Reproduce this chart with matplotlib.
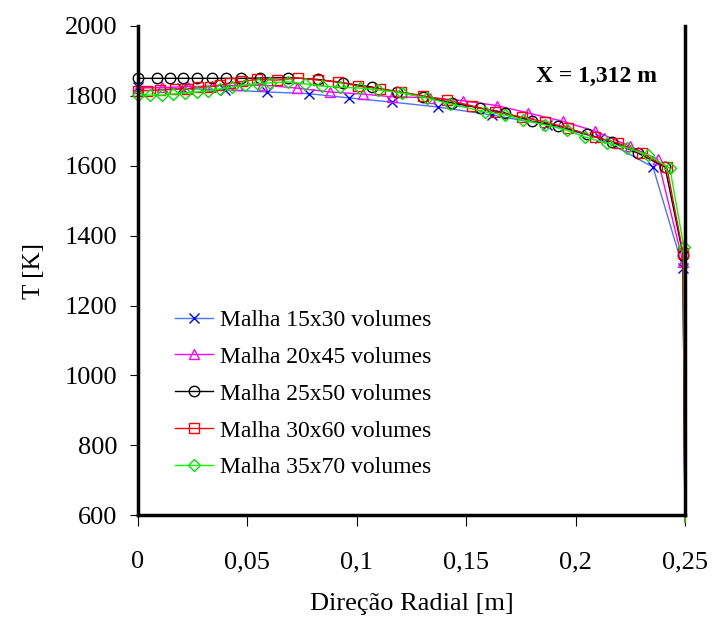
import matplotlib
matplotlib.use("Agg")
import matplotlib.pyplot as plt
import numpy as np

####### DATA #######

# Malha 15x30
r_15 = [0, 0.0201, 0.0398, 0.0590, 0.0782, 0.0965, 0.1161, 0.1371, 0.1618, 0.1869, 0.2111, 0.2354, 0.2491, 0.25]
T_15 = [1825, 1821, 1817, 1811, 1806, 1794, 1782, 1768, 1745, 1717, 1679, 1596, 1307, 580]

# Malha 20x45
r_20 = [0, 0.0110, 0.0228, 0.0338, 0.0453, 0.0567, 0.0727, 0.0878, 0.1028, 0.1161, 0.1335, 0.1485, 0.1641, 0.1782, 0.1942, 0.2088, 0.2248, 0.2376, 0.2491, 0.25]
T_20 = [1822, 1824, 1826, 1828, 1830, 1831, 1822, 1811, 1805, 1797, 1795, 1786, 1772, 1751, 1727, 1699, 1656, 1618, 1324, 580]

# Malha 25x50
r_25 = [0, 0.0087, 0.0146, 0.0206, 0.0270, 0.0338, 0.0402, 0.0471, 0.0558, 0.0686, 0.0823, 0.0937, 0.1070, 0.1184, 0.1303,
        0.1435, 0.1563, 0.1677, 0.1801, 0.1920, 0.2052, 0.2166, 0.2285, 0.2409, 0.2491, 0.25]
T_25 = [1850, 1850, 1850, 1850, 1850, 1850, 1850, 1850, 1851, 1852, 1847, 1837, 1825, 1811, 1797,
        1780, 1765, 1751, 1727, 1714, 1690, 1668, 1636, 1596, 1345, 580]

# Malha 30x60
r_30 = [0, 0.0041, 0.0101, 0.0170, 0.0224, 0.0274, 0.0329, 0.0375, 0.0420, 0.0475, 0.0544, 0.0636, 0.0731, 0.0823, 0.0914,
        0.1005, 0.1106, 0.1202, 0.1303, 0.1412, 0.1527, 0.1632, 0.1755, 0.1860, 0.1965, 0.2088, 0.2194, 0.2303, 0.2417, 0.2491, 0.25]
T_30 = [1815, 1815, 1817, 1819, 1819, 1824, 1826, 1831, 1836, 1841, 1847, 1845, 1851, 1845, 1840,
        1828, 1820, 1811, 1800, 1788, 1771, 1754, 1739, 1725, 1708, 1682, 1665, 1636, 1596, 1350, 580]

# Malha 35x70
r_35 = [0, 0.0055, 0.0110, 0.0160, 0.0215, 0.0270, 0.0320, 0.0375, 0.0430, 0.0489, 0.0548, 0.0603, 0.0686, 0.0763, 0.0841,
        0.0923, 0.1014, 0.1097, 0.1207, 0.1321, 0.1426, 0.1586, 0.1677, 0.1760, 0.1860, 0.1960, 0.2042, 0.2143, 0.2234, 0.2331,
        0.2431, 0.2495, 0.25]
T_35 = [1802, 1802, 1802, 1805, 1808, 1811, 1814, 1820, 1825, 1831, 1834, 1837, 1840, 1834, 1828,
        1825, 1822, 1817, 1808, 1794, 1777, 1754, 1745, 1731, 1717, 1702, 1682, 1665, 1651, 1631,
        1593, 1367, 580]

labels = ['Malha 15x30 volumes', 'Malha 20x45 volumes', 'Malha 25x50 volumes',
          'Malha 30x60 volumes', 'Malha 35x70 volumes']

x_ticks = [0, 0.05, 0.1, 0.15, 0.2, 0.25]
x_tick_labels = ['0', '0,05', '0,1', '0,15', '0,2', '0,25']
y_ticks = [600, 800, 1000, 1200, 1400, 1600, 1800, 2000]

####### PLOT #######

plt.rcParams['font.family'] = ['Liberation Serif', 'DejaVu Serif']

fig = plt.figure(figsize=(7.15, 6.17), dpi=100)
ax = fig.add_axes([0.193, 0.165, 0.765, 0.793])

fs = 19
ms = 7.5
mev = slice(0, -1)

ax.plot(r_15, T_15, color='#4a74ff', lw=1, marker='x', ms=ms, mec='#0000ff', mew=1,
        markevery=mev, clip_on=False, label=labels[0])
ax.plot(r_20, T_20, color='#ff00ff', lw=1, marker='^', ms=ms, mfc='none', mec='#ff00ff', mew=1,
        markevery=mev, clip_on=False, label=labels[1])
ax.plot(r_25, T_25, color='black', lw=1, marker='o', ms=ms, mfc='none', mec='black', mew=1,
        markevery=mev, clip_on=False, label=labels[2])
ax.plot(r_30, T_30, color='#ff0000', lw=1, marker='s', ms=ms, mfc='none', mec='#ff0000', mew=1,
        markevery=mev, clip_on=False, label=labels[3])
ax.plot(r_35, T_35, color='#00ff00', lw=1, marker='D', ms=ms * 0.85, mfc='none', mec='#00e000', mew=1,
        markevery=mev, clip_on=False, label=labels[4])

ax.set_xlim(0, 0.25)
ax.set_ylim(600, 2000)
ax.set_xticks(x_ticks)
ax.set_xticklabels(x_tick_labels)
ax.set_yticks(y_ticks)

ax.spines['top'].set_visible(False)
for s in ['left', 'right', 'bottom']:
    ax.spines[s].set_linewidth(2.5)

ax.tick_params(axis='y', direction='out', length=6, width=0.8, labelsize=fs, pad=9)
ax.tick_params(axis='x', direction='out', length=8, width=0.8, labelsize=fs, pad=18)

ax.set_xlabel('Direção Radial [m]', fontsize=19, labelpad=14)
ax.set_ylabel('T [K]', fontsize=18, labelpad=14)

ax.text(0.839, 0.896, 'X = 1,312 m', transform=ax.transAxes, fontsize=17,
        fontweight='bold', ha='center', va='center')

leg = ax.legend(loc='upper left', bbox_to_anchor=(0.05, 0.44), frameon=False, fontsize=17,
                handlelength=1.6, handletextpad=0.3, labelspacing=0.65, borderaxespad=0)

fig.savefig('out.png', dpi=100)
